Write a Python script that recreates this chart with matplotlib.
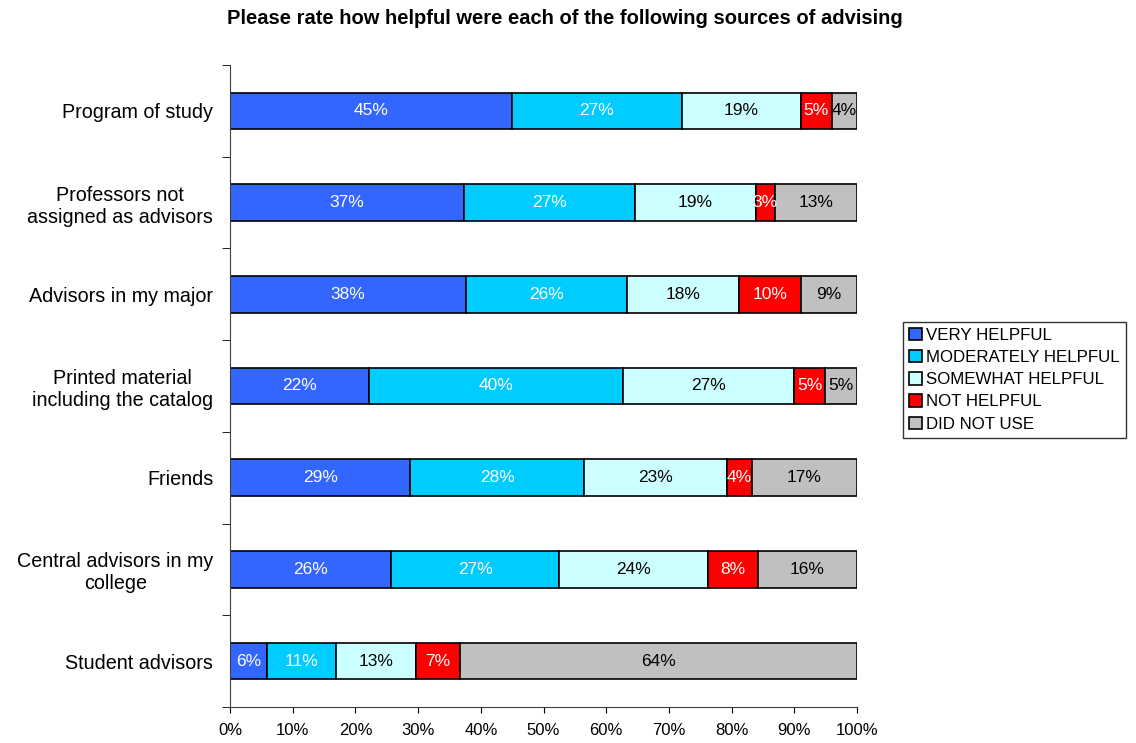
import numpy as np
import matplotlib
matplotlib.use('Agg')
import matplotlib.pyplot as plt

plt.rcParams['font.family'] = ['Liberation Sans', 'DejaVu Sans']

# categories, top to bottom
sources = ['Program of study', 'Professors not\nassigned as advisors', 'Advisors in my major',
           'Printed material\nincluding the catalog', 'Friends', 'Central advisors in my\ncollege',
           'Student advisors']
levels = ['VERY HELPFUL', 'MODERATELY HELPFUL', 'SOMEWHAT HELPFUL', 'NOT HELPFUL', 'DID NOT USE']

# percentages shown in the bars
very = [45, 37, 38, 22, 29, 26, 6]
moderately = [27, 27, 26, 40, 28, 27, 11]
somewhat = [19, 19, 18, 27, 23, 24, 13]
not_helpful = [5, 3, 10, 5, 4, 8, 7]
did_not_use = [4, 13, 9, 5, 17, 16, 64]

colors = ['#3366FF', '#00CCFF', '#CCFFFF', '#FF0000', '#C0C0C0']
txtcol = ['white', 'white', 'black', 'white', 'black']

vals = np.array([very, moderately, somewhat, not_helpful, did_not_use], dtype=float)
shares = vals / vals.sum(axis=0) * 100   # 100% stacked

fig = plt.figure(figsize=(11.36, 7.43), dpi=100)
ax = fig.add_axes([0.2025, 0.0485, 0.552, 0.864])

y = np.arange(len(sources))[::-1]
left = np.zeros(len(sources))
for i, lev in enumerate(levels):
    ax.barh(y, shares[i], left=left, height=0.4, color=colors[i],
            edgecolor='black', linewidth=1.2, label=lev)
    for j in range(len(sources)):
        ax.text(left[j] + shares[i][j] / 2, y[j], '%d%%' % vals[i][j],
                ha='center', va='center', fontsize=12.5, color=txtcol[i])
    left += shares[i]

ax.set_xlim(0, 100)
ax.set_ylim(-0.5, len(sources) - 0.5)
ax.set_xticks(np.arange(0, 101, 10))
ax.set_xticklabels(['%d%%' % t for t in range(0, 101, 10)], fontsize=12)
ax.tick_params(axis='x', length=4.3, direction='out', pad=7)
ax.set_yticks(y)
ax.set_yticklabels(sources, fontsize=14.2, multialignment='center', linespacing=1.2)
ax.tick_params(axis='y', which='major', length=0, pad=12)
# ticks between the categories
ax.set_yticks(np.arange(-0.5, len(sources)), minor=True)
ax.tick_params(axis='y', which='minor', length=5.8, direction='out')
for s in ['top', 'right']:
    ax.spines[s].set_visible(False)
for s in ['left', 'bottom']:
    ax.spines[s].set_color('#404040')

fig.text(0.497, 0.975, 'Please rate how helpful were each of the following sources of advising',
         ha='center', va='center', fontsize=14.5, fontweight='bold')

leg = ax.legend(loc='upper left', bbox_to_anchor=(0.795, 0.567), bbox_transform=fig.transFigure,
                borderaxespad=0, fontsize=12.2, handlelength=0.75, handleheight=0.75,
                handletextpad=0.25, labelspacing=0.42, frameon=True, fancybox=False,
                borderpad=0.35)
leg.get_frame().set_edgecolor('black')
leg.get_frame().set_linewidth(1.0)

fig.savefig('out.png', dpi=100)
